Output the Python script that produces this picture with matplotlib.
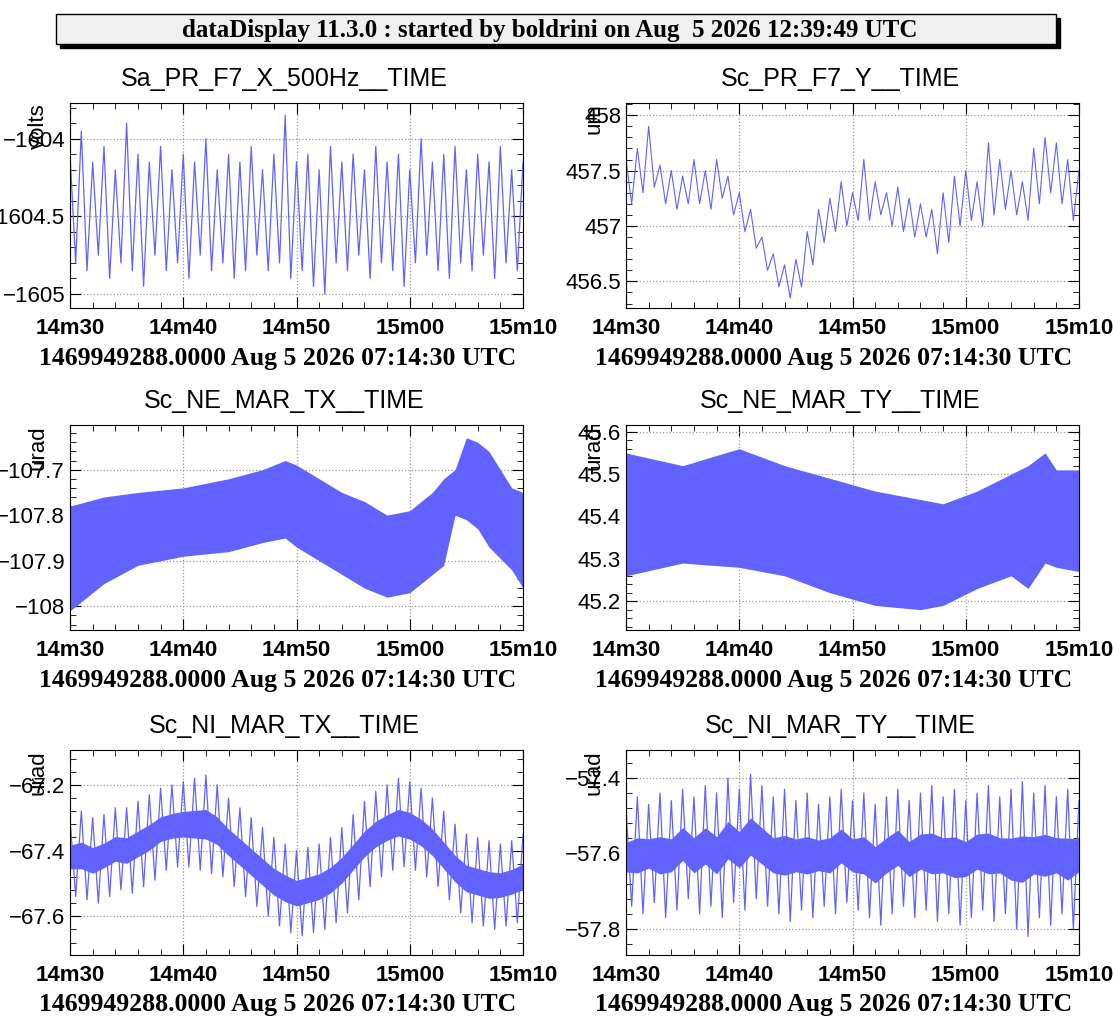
import numpy as np
import matplotlib
matplotlib.use("Agg")
import matplotlib.pyplot as plt
from matplotlib.patches import Rectangle
from matplotlib.ticker import MultipleLocator, AutoMinorLocator

BLUE = "#6262ff"
TITLE = "dataDisplay 11.3.0 : started by boldrini on Aug  5 2026 12:39:49 UTC"
XLABEL = "1469949288.0000 Aug 5 2026 07:14:30 UTC"
XTICKS = [0, 10, 20, 30, 40]
XTICKLABELS = ["14m30", "14m40", "14m50", "15m00", "15m10"]

# seconds after 14m30, one knot per second
t41 = list(range(41))

p1_hi = [-1604.1, -1603.95, -1604.15, -1604.05, -1604.2, -1603.9, -1604.1, -1604.15, -1604.05, -1604.2,
         -1604.1, -1604.15, -1604.0, -1604.2, -1604.1, -1604.15, -1604.05, -1604.2, -1604.1, -1603.85,
         -1604.15, -1604.1, -1604.2, -1604.05, -1604.15, -1604.1, -1604.2, -1604.05, -1604.15, -1604.1,
         -1604.2, -1604.0, -1604.15, -1604.1, -1604.05, -1604.2, -1604.1, -1604.15, -1604.05, -1604.2, -1604.15]
p1_lo = [-1604.8, -1604.85, -1604.75, -1604.9, -1604.8, -1604.85, -1604.95, -1604.75, -1604.85, -1604.8,
         -1604.9, -1604.75, -1604.85, -1604.8, -1604.9, -1604.85, -1604.75, -1604.85, -1604.8, -1604.9,
         -1604.85, -1604.95, -1605.0, -1604.8, -1604.85, -1604.75, -1604.9, -1604.8, -1604.85, -1604.95,
         -1604.8, -1604.75, -1604.85, -1604.9, -1604.8, -1604.85, -1604.75, -1604.9, -1604.8, -1604.85, -1604.7]

p2_hi = [457.6, 457.7, 457.9, 457.55, 457.5, 457.45, 457.6, 457.5, 457.6, 457.45, 457.3, 457.15, 456.9,
         456.75, 456.65, 456.7, 456.95, 457.15, 457.25, 457.4, 457.3, 457.6, 457.4, 457.3, 457.35, 457.25,
         457.2, 457.15, 457.3, 457.45, 457.5, 457.4, 457.75, 457.6, 457.5, 457.4, 457.7, 457.8, 457.75, 457.6, 457.5]
p2_lo = [457.2, 457.3, 457.35, 457.2, 457.15, 457.2, 457.2, 457.15, 457.25, 457.1, 456.95, 456.8, 456.6,
         456.45, 456.35, 456.45, 456.65, 456.85, 456.95, 457.0, 457.05, 457.05, 457.1, 457.0, 456.95, 456.9,
         456.9, 456.75, 456.85, 457.0, 457.05, 457.0, 457.1, 457.15, 457.1, 457.05, 457.2, 457.3, 457.2, 457.05, 457.1]

p3_t = [0, 3, 6, 10, 14, 17, 19, 20, 22, 24, 26, 28, 30, 31, 32, 33, 34, 35, 36, 37, 39, 40]
p3_hi = [-107.78, -107.76, -107.75, -107.74, -107.72, -107.70, -107.68, -107.69, -107.72, -107.75, -107.77,
         -107.80, -107.79, -107.77, -107.75, -107.72, -107.70, -107.63, -107.64, -107.66, -107.74, -107.75]
p3_lo = [-108.01, -107.95, -107.91, -107.89, -107.88, -107.86, -107.85, -107.87, -107.90, -107.93, -107.96,
         -107.98, -107.97, -107.95, -107.93, -107.91, -107.80, -107.81, -107.83, -107.87, -107.92, -107.96]

p4_t = [0, 5, 10, 14, 18, 22, 26, 28, 31, 34, 35.5, 37, 38, 40]
p4_hi = [45.55, 45.52, 45.56, 45.52, 45.49, 45.46, 45.44, 45.43, 45.46, 45.50, 45.52, 45.55, 45.51, 45.51]
p4_lo = [45.26, 45.29, 45.28, 45.26, 45.22, 45.19, 45.18, 45.19, 45.23, 45.26, 45.23, 45.29, 45.28, 45.27]

p5_hi = [-67.30, -67.28, -67.30, -67.29, -67.27, -67.27, -67.25, -67.23, -67.21, -67.20, -67.19, -67.18, -67.17,
         -67.20, -67.24, -67.27, -67.30, -67.33, -67.36, -67.38, -67.40, -67.39, -67.38, -67.36, -67.33, -67.29,
         -67.25, -67.22, -67.20, -67.18, -67.19, -67.21, -67.24, -67.28, -67.32, -67.35, -67.36, -67.37, -67.38, -67.37, -67.35]
p5_lo = [-67.54, -67.55, -67.56, -67.54, -67.52, -67.53, -67.51, -67.49, -67.46, -67.45, -67.45, -67.46, -67.47,
         -67.48, -67.51, -67.54, -67.57, -67.60, -67.63, -67.65, -67.66, -67.65, -67.64, -67.62, -67.59, -67.55,
         -67.51, -67.48, -67.46, -67.45, -67.46, -67.48, -67.51, -67.55, -67.59, -67.62, -67.63, -67.64, -67.63, -67.62, -67.61]

p6_hi = [-57.48, -57.45, -57.47, -57.44, -57.46, -57.43, -57.45, -57.42, -57.44, -57.40, -57.43, -57.39, -57.42,
         -57.45, -57.43, -57.46, -57.44, -57.47, -57.45, -57.43, -57.46, -57.44, -57.47, -57.45, -57.43, -57.46,
         -57.44, -57.42, -57.45, -57.43, -57.46, -57.44, -57.42, -57.45, -57.43, -57.41, -57.44, -57.42, -57.45, -57.43, -57.46]
p6_lo = [-57.74, -57.76, -57.73, -57.77, -57.75, -57.72, -57.76, -57.74, -57.77, -57.73, -57.75, -57.72, -57.74,
         -57.76, -57.78, -57.75, -57.77, -57.74, -57.76, -57.73, -57.75, -57.77, -57.79, -57.76, -57.74, -57.77,
         -57.75, -57.78, -57.76, -57.79, -57.77, -57.75, -57.78, -57.76, -57.80, -57.82, -57.77, -57.79, -57.76, -57.80, -57.75]


def zigzag(ax, hi, lo, lw=0.9):
    # alternate peak / trough half a second apart
    xs, ys = [], []
    for i in range(len(t41)):
        xs += [t41[i], t41[i] + 0.5]
        ys += [hi[i], lo[i]]
    ax.plot(xs[:-1], ys[:-1], color=BLUE, lw=lw)


W, H = 1113, 1034
fig = plt.figure(figsize=(W / 100, H / 100), dpi=100)
fig.patch.set_facecolor("white")

# title box with shadow
fig.patches.append(Rectangle((60 / W, 1 - 48 / H), 1000 / W, 30 / H, transform=fig.transFigure,
                             facecolor="black", edgecolor="black"))
fig.patches.append(Rectangle((56 / W, 1 - 44 / H), 1000 / W, 30 / H, transform=fig.transFigure,
                             facecolor="#f0f0f0", edgecolor="black", lw=1))
fig.text(550 / W, 1 - 30 / H, TITLE, ha="center", va="center", fontsize=18,
         fontweight="bold", family="Liberation Serif")

panels = [
    ("Sa_PR_F7_X_500Hz__TIME", "volts", (-1605.09, -1603.77), 0.5, 0, 0),
    ("Sc_PR_F7_Y__TIME", "um", (456.26, 458.11), 0.5, 0, 1),
    ("Sc_NE_MAR_TX__TIME", "urad", (-108.052, -107.602), 0.1, 1, 0),
    ("Sc_NE_MAR_TY__TIME", "urad", (45.132, 45.616), 0.1, 1, 1),
    ("Sc_NI_MAR_TX__TIME", "urad", (-67.718, -67.094), 0.2, 2, 0),
    ("Sc_NI_MAR_TY__TIME", "urad", (-57.869, -57.326), 0.2, 2, 1),
]
lefts = [70, 626]
tops = [103, 425, 750]
aw, ah = 453, 205

axes = []
for title, unit, ylim, step, r, c in panels:
    x0, y0 = lefts[c], tops[r]
    ax = fig.add_axes([x0 / W, 1 - (y0 + ah) / H, aw / W, ah / H])
    ax.set_xlim(0, 40)
    ax.set_ylim(*ylim)
    ax.yaxis.set_major_locator(MultipleLocator(step))
    ax.yaxis.set_minor_locator(AutoMinorLocator(5))
    ax.set_xticks(XTICKS)
    ax.set_xticklabels(XTICKLABELS)
    ax.xaxis.set_minor_locator(MultipleLocator(2))
    ax.yaxis.set_major_formatter(matplotlib.ticker.FuncFormatter(
        lambda v, p: ("%g" % round(v, 3)).replace("-", "\u2212")))
    ax.tick_params(which="both", direction="in", top=True, right=True)
    ax.tick_params(which="major", length=8)
    ax.tick_params(which="minor", length=4)
    ax.tick_params(axis="x", labelsize=16, pad=7)
    ax.tick_params(axis="y", labelsize=16)
    for lab in ax.get_xticklabels():
        lab.set_fontweight("bold")
        lab.set_family("Liberation Sans")
    for lab in ax.get_yticklabels():
        lab.set_family("Liberation Sans")
    ax.grid(True, color="#999999", ls=":", lw=0.9)
    ax.set_axisbelow(True)
    fig.text((x0 + aw / 2 - 12) / W, 1 - (y0 - 24) / H, title, ha="center", va="center",
             fontsize=18, family="Liberation Sans")
    fig.text((x0 + aw / 2 - 19) / W, 1 - (y0 + ah + 50) / H, XLABEL, ha="center", va="center",
             fontsize=18.5, fontweight="bold", family="Liberation Serif")
    fig.text((x0 - 32) / W, 1 - y0 / H, unit, ha="center", va="top", rotation=90,
             fontsize=16, family="Liberation Sans")
    axes.append(ax)

zigzag(axes[0], p1_hi, p1_lo)
zigzag(axes[1], p2_hi, p2_lo, lw=0.8)
axes[2].fill_between(p3_t, p3_lo, p3_hi, color=BLUE, lw=0)
axes[3].fill_between(p4_t, p4_lo, p4_hi, color=BLUE, lw=0)
for ax, hi, lo in [(axes[4], p5_hi, p5_lo), (axes[5], p6_hi, p6_lo)]:
    core_hi = [h - 0.35 * (h - l) for h, l in zip(hi, lo)]
    core_lo = [l + 0.35 * (h - l) for h, l in zip(hi, lo)]
    ax.fill_between(t41, core_lo, core_hi, color=BLUE, lw=0)
    zigzag(ax, hi, lo)

fig.savefig("out.png", dpi=100, facecolor="white")
